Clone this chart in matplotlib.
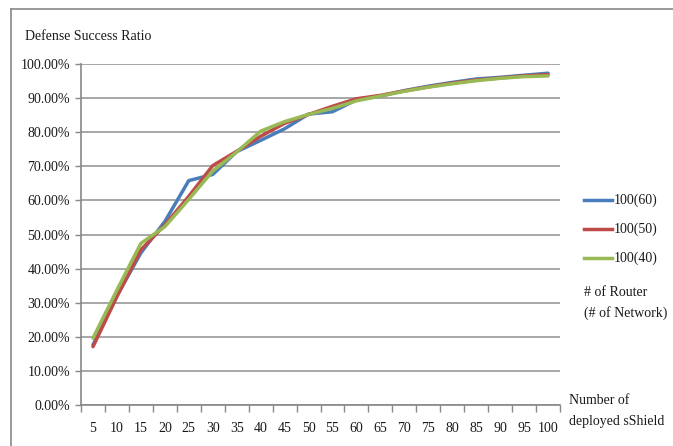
import matplotlib
matplotlib.use("Agg")
import matplotlib.pyplot as plt
from matplotlib.lines import Line2D
import numpy as np

categories = [5, 10, 15, 20, 25, 30, 35, 40, 45, 50, 55, 60, 65, 70, 75, 80, 85, 90, 95, 100]
s60 = [17.6, 32.0, 44.6, 53.8, 65.8, 67.6, 74.3, 77.6, 81.0, 85.3, 86.0, 89.5, 90.6, 92.2, 93.5, 94.6, 95.6, 96.1, 96.7, 97.3]
s50 = [17.1, 31.8, 45.5, 52.8, 61.2, 70.2, 74.4, 78.8, 82.6, 85.2, 87.6, 89.8, 90.8, 92.1, 93.3, 94.4, 95.3, 95.9, 96.5, 96.9]
s40 = [19.6, 33.7, 47.4, 52.3, 60.3, 68.6, 74.2, 80.3, 83.1, 85.2, 87.0, 89.2, 90.6, 92.0, 93.2, 94.2, 95.1, 95.8, 96.3, 96.5]
series_names = ["100(60)", "100(50)", "100(40)"]
colors = ["#4a7ebb", "#be4b48", "#98b954"]
yticks = np.arange(0, 101, 10)

plt.rcParams['font.family'] = ['Liberation Serif', 'DejaVu Serif']
fs = 10
tc = "#1a1a1a"

fig = plt.figure(figsize=(6.73, 4.46), dpi=100)
W, H = 673, 446
ax = fig.add_axes([81 / W, 41 / H, (560 - 81) / W, (405 - 64) / H])

x = np.arange(len(categories))
for vals, c in zip([s60, s50, s40], colors):
    ax.plot(x, vals, color=c, lw=2.5, solid_capstyle='round', solid_joinstyle='round', zorder=3)

ax.set_xlim(-0.5, len(categories) - 0.5)
ax.set_ylim(0, 100)
ax.set_yticks(yticks)
ax.set_yticklabels([f"{v:.2f}%" for v in yticks], fontsize=fs, color=tc)
ax.yaxis.grid(True, color="#a0a0a0", lw=1.3)
ax.set_axisbelow(True)
ax.set_xticks(x)
ax.set_xticklabels([str(c) for c in categories], fontsize=fs, color=tc)
ax.set_xticks(np.arange(-0.5, len(categories)), minor=True)
ax.tick_params(axis='x', which='major', length=0, pad=12)
ax.tick_params(axis='x', which='minor', length=5, color="#888888", width=1)
ax.tick_params(axis='y', length=4, color="#888888", width=1, pad=4)
for s in ['top', 'right']:
    ax.spines[s].set_visible(False)
for s in ['left', 'bottom']:
    ax.spines[s].set_color("#888888")
    ax.spines[s].set_linewidth(1.2)

fig.text(25 / W, 1 - 36 / H, "Defense Success Ratio", fontsize=fs, va='center', ha='left', color=tc)
fig.text(569 / W, 1 - 401 / H, "Number of", fontsize=fs, va='center', ha='left', color=tc)
fig.text(569 / W, 1 - 422 / H, "deployed sShield", fontsize=fs, va='center', ha='left', color=tc)

# legend
for name, c, yy in zip(series_names, colors, [200, 229, 258]):
    fig.add_artist(Line2D([584 / W, 612 / W], [1 - yy / H, 1 - yy / H], color=c, lw=2.5, transform=fig.transFigure))
    fig.text(614 / W, 1 - yy / H, name, fontsize=fs, va='center', ha='left', color=tc)
fig.text(584 / W, 1 - 292 / H, "# of Router", fontsize=fs, va='center', ha='left', color=tc)
fig.text(584 / W, 1 - 313 / H, "(# of Network)", fontsize=fs, va='center', ha='left', color=tc)

# outer frame
fig.add_artist(Line2D([11 / W, 1], [1 - 9 / H, 1 - 9 / H], color="#888888", lw=1.2, transform=fig.transFigure))
fig.add_artist(Line2D([11 / W, 11 / W], [0, 1 - 9 / H], color="#888888", lw=1.2, transform=fig.transFigure))

fig.savefig("out.png", dpi=100)
